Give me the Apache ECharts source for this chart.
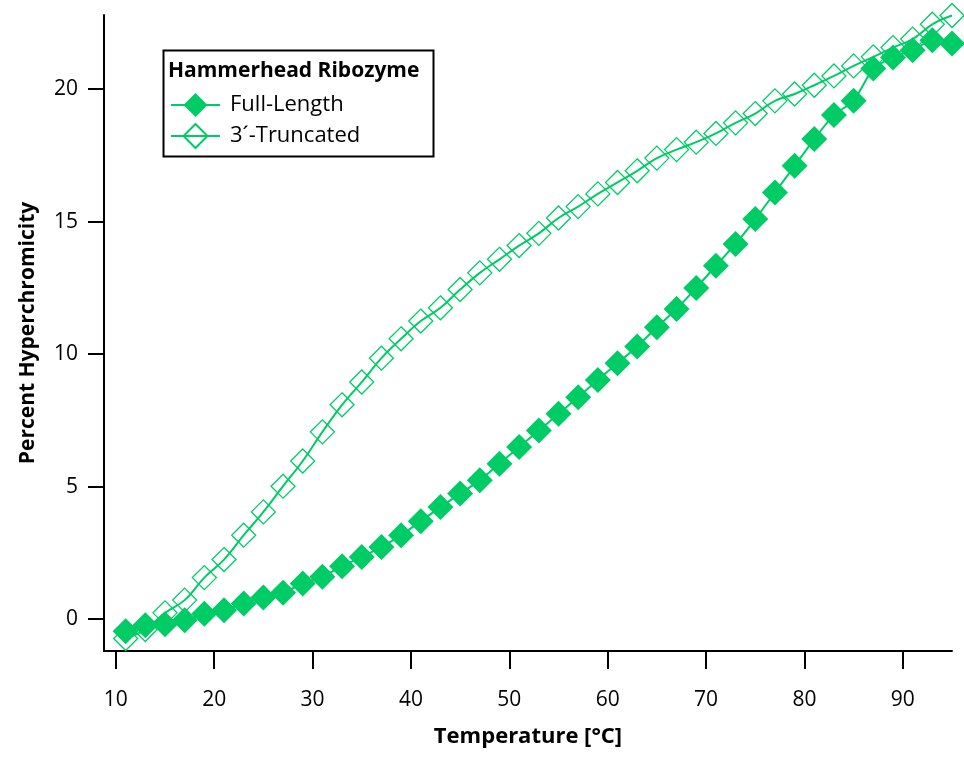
<!DOCTYPE html>
<html>
<head>
<meta charset="utf-8">
<script src="https://cdn.jsdelivr.net/npm/echarts@6/dist/echarts.min.js"></script>
<style>
  html, body { margin: 0; padding: 0; background: #fff; }
  #chart { width: 964px; height: 761px; }
</style>
</head>
<body>
<div id="chart"></div>
<script>
// temperature points (°C)
var temps = [11, 13, 15, 17, 19, 21, 23, 25, 27, 29, 31, 33, 35, 37, 39, 41, 43, 45, 47, 49, 51,
    53, 55, 57, 59, 61, 63, 65, 67, 69, 71, 73, 75, 77, 79, 81, 83, 85, 87, 89, 91, 93, 95];

// Full-Length (filled diamonds)
var fullLength = [-0.45, -0.23, -0.19, -0.04, 0.21, 0.34, 0.59, 0.82, 1.0, 1.35, 1.6, 2.0, 2.35, 2.72, 3.17,
    3.7, 4.23, 4.74, 5.24, 5.87, 6.5, 7.12, 7.75, 8.38, 9.03, 9.66, 10.29, 11.02, 11.71, 12.5, 13.34,
    14.16, 15.1, 16.1, 17.11, 18.12, 19.03, 19.56, 20.78, 21.2, 21.47, 21.85, 21.72];

// 3'-Truncated (hollow diamonds)
var truncated = [-0.73, -0.39, 0.24, 0.72, 1.57, 2.25, 3.17, 4.05, 5.02, 5.97, 7.07, 8.09, 8.95, 9.85, 10.58,
    11.25, 11.75, 12.44, 13.07, 13.58, 14.1, 14.56, 15.14, 15.57, 16.05, 16.48, 16.92, 17.4, 17.72,
    18.0, 18.33, 18.73, 19.08, 19.56, 19.82, 20.15, 20.5, 20.88, 21.22, 21.57, 21.89, 22.45, 22.78];

var xTicks = [10, 20, 30, 40, 50, 60, 70, 80, 90];
var yTicks = [0, 5, 10, 15, 20];

var green = '#00cc66';
var font = 'Open Sans';

function pairs(xs, ys) {
    var out = [];
    for (var i = 0; i < xs.length; i++) {
        out.push([xs[i], ys[i]]);
    }
    return out;
}

var chart = echarts.init(document.getElementById('chart'));
var option = {
    animation: false,
    backgroundColor: '#fff',
    textStyle: { fontFamily: font },
    grid: { left: 104, right: 12, top: 15, bottom: 110 },
    legend: {
        data: ['Full-Length', "3\u00b4-Truncated"],
        orient: 'vertical',
        left: 170,
        top: 93,
        itemWidth: 49,
        itemHeight: 30,
        itemGap: 6,
        padding: 0,
        textStyle: { fontFamily: font, fontSize: 22, color: '#000', padding: [0, 0, 0, 5] }
    },
    graphic: [{
        type: 'rect',
        left: 161,
        top: 48,
        shape: { width: 270, height: 106 },
        style: { fill: 'none', stroke: '#000', lineWidth: 2 },
        z: 10
    }, {
        type: 'text',
        left: 168,
        top: 61,
        style: { text: 'Hammerhead Ribozyme', font: 'bold 21px "' + font + '"', fill: '#000' },
        z: 10
    }],
    xAxis: {
        type: 'value',
        min: 8.8,
        max: 95,
        name: 'Temperature [\u00b0C]',
        nameLocation: 'middle',
        nameGap: 75,
        nameTextStyle: { fontFamily: font, fontSize: 22, fontWeight: 'bold', color: '#000' },
        axisLine: { onZero: false, lineStyle: { color: '#000', width: 2 } },
        axisTick: {
            show: true, length: 18, lineStyle: { color: '#000', width: 2 },
            customValues: xTicks
        },
        axisLabel: {
            fontFamily: font, fontSize: 21, color: '#000', margin: 39,
            customValues: xTicks
        },
        splitLine: { show: false }
    },
    yAxis: {
        type: 'value',
        min: -1.2,
        max: 22.8,
        name: 'Percent Hyperchromicity',
        nameLocation: 'middle',
        nameGap: 65,
        nameTextStyle: { fontFamily: font, fontSize: 21, fontWeight: 'bold', color: '#000' },
        axisLine: { show: true, onZero: false, lineStyle: { color: '#000', width: 2 } },
        axisTick: {
            show: true, length: 16, lineStyle: { color: '#000', width: 2 },
            customValues: yTicks
        },
        axisLabel: {
            fontFamily: font, fontSize: 21, color: '#000', margin: 26,
            customValues: yTicks
        },
        splitLine: { show: false }
    },
    series: [{
        name: "3\u00b4-Truncated",
        type: 'line',
        data: pairs(temps, truncated),
        smooth: 0.4,
        symbol: 'diamond',
        symbolSize: 24,
        color: green,
        lineStyle: { color: green, width: 2 },
        itemStyle: { color: 'rgba(255,255,255,0)', borderColor: green, borderWidth: 1.3 },
        z: 2
    }, {
        name: 'Full-Length',
        type: 'line',
        data: pairs(temps, fullLength),
        smooth: 0.2,
        symbol: 'diamond',
        symbolSize: 26,
        color: green,
        lineStyle: { color: green, width: 2 },
        itemStyle: { color: green },
        z: 3
    }]
};
chart.setOption(option);
window.addEventListener('resize', chart.resize);
</script>
</body>
</html>
